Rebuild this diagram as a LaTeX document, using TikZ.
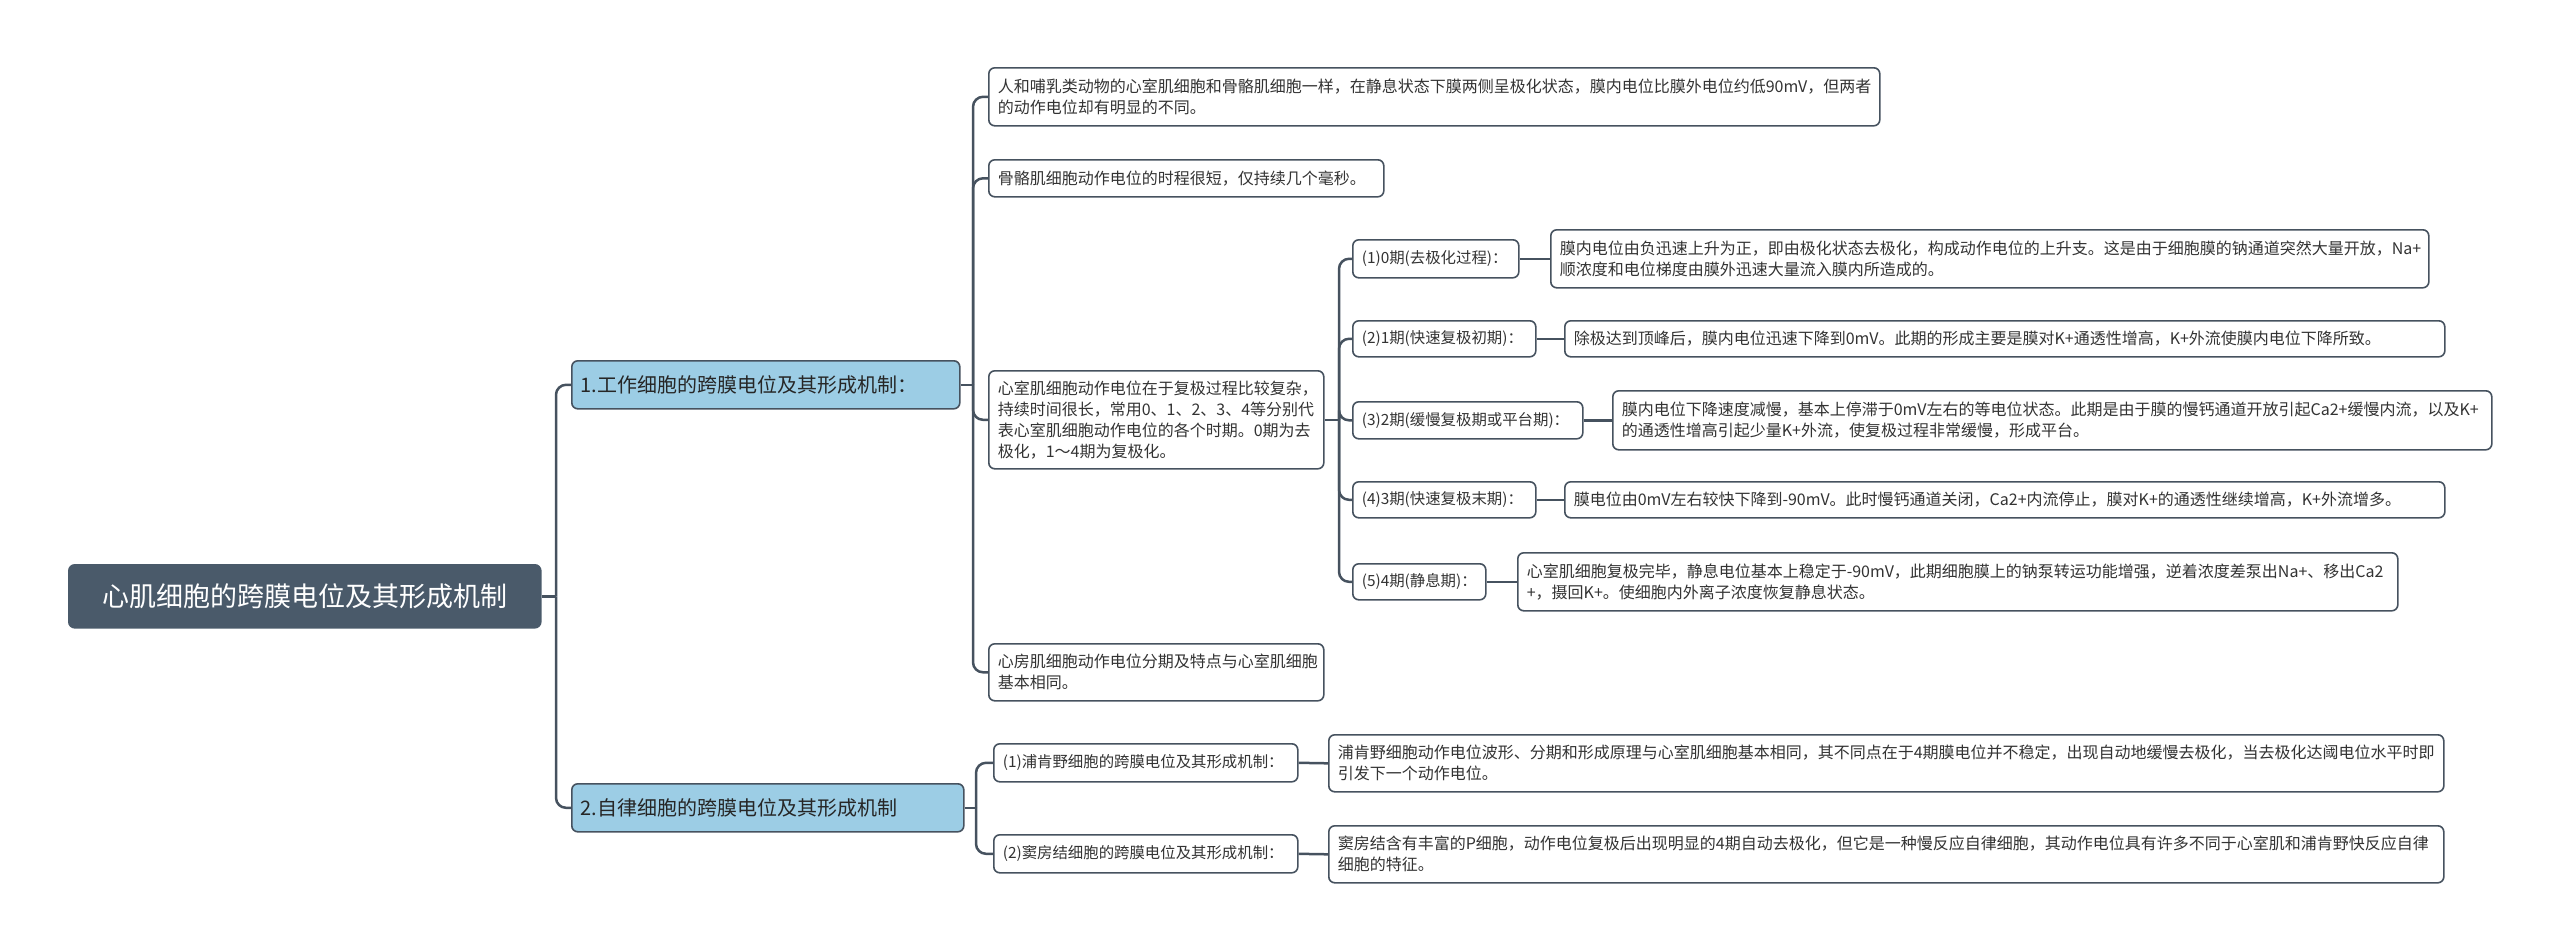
\documentclass[tikz,border=0pt]{standalone}
\usepackage{fontspec}
\setmainfont{Noto Sans CJK SC}
\definecolor{rootfill}{HTML}{4A5A6A}
\definecolor{lonefill}{HTML}{9CCDE5}
\definecolor{linec}{HTML}{46525F}
\definecolor{txt}{HTML}{333333}
\newcommand\mmbox[7]{%
 \pgfmathsetlengthmacro\mmw{(#5-#3)*0.5pt}%
 \pgfmathsetlengthmacro\mmh{(#6-#4)*0.5pt}%
 \pgfmathsetlengthmacro\mmtw{(#5-#3)*0.5pt-9pt}%
 \node[#2, anchor=north west, minimum width=\mmw, minimum height=\mmh, text width=\mmtw] (#1) at (#3,#4) {#7};}
\begin{document}
\begin{tikzpicture}[x=0.5pt,y=-0.5pt,
  box/.style={rectangle, rounded corners=3pt, inner xsep=4.5pt, inner ysep=1pt, align=left,
    font=\fontsize{8pt}{10.5pt}\selectfont, text=txt, draw=linec, line width=0.8pt, fill=white},
  lab/.style={box, font=\fontsize{7.7pt}{10.5pt}\selectfont},
  lone/.style={box, fill=lonefill, font=\fontsize{10pt}{12pt}\selectfont, text=black!85},
  rootbox/.style={box, fill=rootfill, draw=rootfill, text=white, align=center,
    font=\fontsize{13.5pt}{16pt}\selectfont},
  conn/.style={draw=linec, line width=1.25pt, rounded corners=5pt}]
\useasboundingbox (0,0) rectangle (2560,950);
% nodes
\mmbox{root}{rootbox}{68}{564}{540}{627}{心肌细胞的跨膜电位及其形成机制}
\mmbox{la}{lone}{571}{360}{959}{408}{1.工作细胞的跨膜电位及其形成机制：}
\mmbox{lb}{lone}{571}{783}{963}{831}{2.自律细胞的跨膜电位及其形成机制}
\mmbox{A}{box}{988}{67}{1879}{125}{人和哺乳类动物的心室肌细胞和骨骼肌细胞一样，在静息状态下膜两侧呈极化状态，膜内电位比膜外电位约低90mV，但两者\\的动作电位却有明显的不同。}
\mmbox{B}{box}{988}{159}{1383}{196}{骨骼肌细胞动作电位的时程很短，仅持续几个毫秒。}
\mmbox{C}{box}{988}{370}{1323}{468}{心室肌细胞动作电位在于复极过程比较复杂，\\持续时间很长，常用0、1、2、3、4等分别代\\表心室肌细胞动作电位的各个时期。0期为去\\极化，1～4期为复极化。}
\mmbox{D}{box}{988}{643}{1323}{700}{心房肌细胞动作电位分期及特点与心室肌细胞\\基本相同。}
\mmbox{p1}{lab}{1352}{239}{1518}{277}{(1)0期(去极化过程)：}
\mmbox{q1}{box}{1550}{229}{2428}{287}{膜内电位由负迅速上升为正，即由极化状态去极化，构成动作电位的上升支。这是由于细胞膜的钠通道突然大量开放，Na+\\顺浓度和电位梯度由膜外迅速大量流入膜内所造成的。}
\mmbox{p2}{lab}{1352}{320}{1535}{356}{(2)1期(快速复极初期)：}
\mmbox{q2}{box}{1564}{320}{2444}{356}{除极达到顶峰后，膜内电位迅速下降到0mV。此期的形成主要是膜对K+通透性增高，K+外流使膜内电位下降所致。}
\mmbox{p3}{lab}{1352}{401}{1582}{438}{(3)2期(缓慢复极期或平台期)：}
\mmbox{q3}{box}{1612}{390}{2491}{449}{膜内电位下降速度减慢，基本上停滞于0mV左右的等电位状态。此期是由于膜的慢钙通道开放引起Ca2+缓慢内流，以及K+\\的通透性增高引起少量K+外流，使复极过程非常缓慢，形成平台。}
\mmbox{p4}{lab}{1352}{481}{1535}{517}{(4)3期(快速复极末期)：}
\mmbox{q4}{box}{1564}{481}{2444}{517}{膜电位由0mV左右较快下降到-90mV。此时慢钙通道关闭，Ca2+内流停止，膜对K+的通透性继续增高，K+外流增多。}
\mmbox{p5}{lab}{1352}{563}{1485}{599}{(5)4期(静息期)：}
\mmbox{q5}{box}{1517}{552}{2397}{610}{心室肌细胞复极完毕，静息电位基本上稳定于-90mV，此期细胞膜上的钠泵转运功能增强，逆着浓度差泵出Na+、移出Ca2\\+，摄回K+。使细胞内外离子浓度恢复静息状态。}
\mmbox{r1}{lab}{993}{743}{1297}{781}{(1)浦肯野细胞的跨膜电位及其形成机制：}
\mmbox{s1}{box}{1328}{734}{2443}{791}{浦肯野细胞动作电位波形、分期和形成原理与心室肌细胞基本相同，其不同点在于4期膜电位并不稳定，出现自动地缓慢去极化，当去极化达阈电位水平时即\\引发下一个动作电位。}
\mmbox{r2}{lab}{993}{834}{1297}{872}{(2)窦房结细胞的跨膜电位及其形成机制：}
\mmbox{s2}{box}{1328}{825}{2443}{882}{窦房结含有丰富的P细胞，动作电位复极后出现明显的4期自动去极化，但它是一种慢反应自律细胞，其动作电位具有许多不同于心室肌和浦肯野快反应自律\\细胞的特征。}
% trunks
\coordinate (t0) at (556,0);
\coordinate (t1) at (973,0);
\coordinate (t2) at (1339,0);
\coordinate (t3) at (976,0);
% connectors
\draw[conn] (root.east) -- (root.east -| t0);
\foreach \c in {la,lb} \draw[conn] (root.east -| t0) |- (\c.west);
\draw[conn] (la.east) -- (la.east -| t1);
\foreach \c in {A,B,C,D} \draw[conn] (la.east -| t1) |- (\c.west);
\draw[conn] (C.east) -- (C.east -| t2);
\foreach \c in {p1,p2,p3,p4,p5} \draw[conn] (C.east -| t2) |- (\c.west);
\draw[conn] (lb.east) -- (lb.east -| t3);
\foreach \c in {r1,r2} \draw[conn] (lb.east -| t3) |- (\c.west);
\foreach \a/\b in {p1/q1,p2/q2,p3/q3,p4/q4,p5/q5,r1/s1,r2/s2} \draw[conn] (\a.east) -- (\b.west);
\end{tikzpicture}
\end{document}
